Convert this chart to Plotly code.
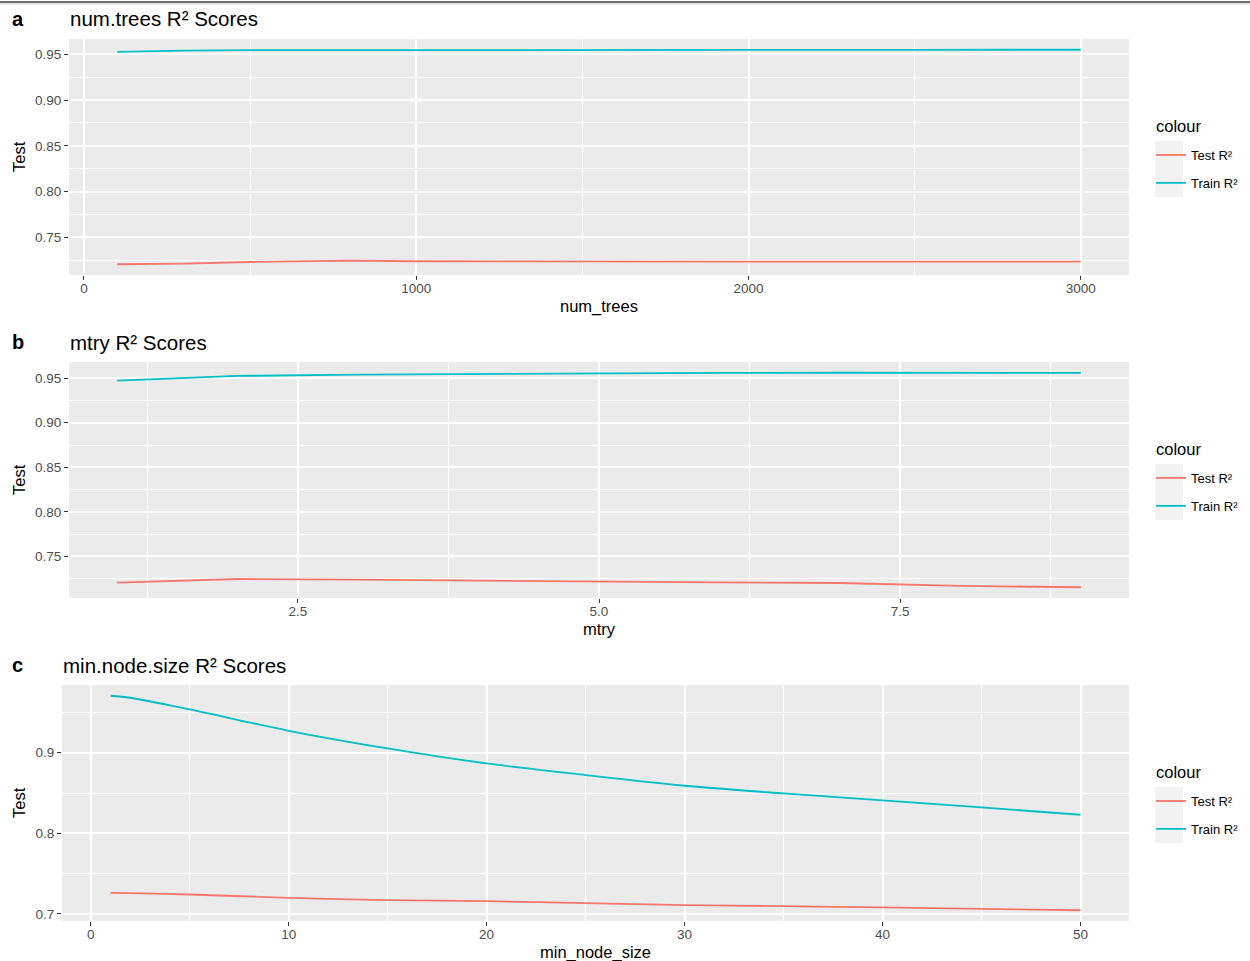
import plotly.graph_objects as go

W, H = 1250, 961

# ---------------- data ----------------
num_trees = [100, 300, 500, 800, 1000, 1500, 2000, 2500, 3000]
test_a = [0.7205, 0.7212, 0.7230, 0.7245, 0.7238, 0.7240, 0.7235, 0.7234, 0.7234]
train_a = [0.9526, 0.9540, 0.9545, 0.9547, 0.9547, 0.9548, 0.9548, 0.9549, 0.9550]

mtry = [1, 2, 3, 4, 5, 6, 7, 8, 9]
test_b = [0.7204, 0.7245, 0.7237, 0.7226, 0.7213, 0.7208, 0.7200, 0.7168, 0.7152]
train_b = [0.9474, 0.9526, 0.9541, 0.9549, 0.9556, 0.9560, 0.9562, 0.9562, 0.9561]

min_node_size = [1, 2, 5, 10, 15, 20, 25, 30, 35, 40, 45, 50]
test_c = [0.7261, 0.7257, 0.7240, 0.7199, 0.7170, 0.7157, 0.7133, 0.7108, 0.7095, 0.7079, 0.7062, 0.7044]
train_c = [0.9708, 0.9683, 0.9538, 0.9273, 0.9054, 0.8867, 0.8723, 0.8590, 0.8495, 0.8408, 0.8321, 0.8230]

panel_letters = ["a", "b", "c"]
panel_titles = ["num.trees R² Scores", "mtry R² Scores", "min.node.size R² Scores"]
x_titles = ["num_trees", "mtry", "min_node_size"]
y_title = "Test"
series_names = ["Test R²", "Train R²"]
legend_title = "colour"

TEST_COL = "#F8766D"
TRAIN_COL = "#00BFC4"
FONT = "Liberation Sans, Arial, sans-serif"


def fx(px):
    return px / W


def fy(py):
    return 1 - py / H


def expand(vals, mult=0.05):
    lo, hi = min(vals), max(vals)
    d = (hi - lo) * mult
    return [lo - d, hi + d]


# pixel layout of the three plot panels (left, right, top, bottom)
panels = [
    (69, 1129, 39, 275),
    (69, 1129, 362, 598),
    (62, 1129, 685, 921),
]

xs = [num_trees, mtry, min_node_size]
tests = [test_a, test_b, test_c]
trains = [train_a, train_b, train_c]
shapes_ = ["linear", "linear", "spline"]
x_tick = [dict(tick0=0, dtick=1000, minor=500, fmt="d"),
          dict(tick0=0, dtick=2.5, minor=1.25, fmt=".1f"),
          dict(tick0=0, dtick=10, minor=5, fmt="d")]
y_tick = [dict(dtick=0.05, minor=0.025, fmt=".2f"),
          dict(dtick=0.05, minor=0.025, fmt=".2f"),
          dict(dtick=0.1, minor=0.05, fmt=".1f")]

fig = go.Figure()
layout = dict(
    width=W, height=H, autosize=False,
    margin=dict(l=0, r=0, t=0, b=0),
    paper_bgcolor="white", plot_bgcolor="#EBEBEB",
    font=dict(family=FONT, color="black"),
    annotations=[], shapes=[],
)

legend_keys = ["legend", "legend2", "legend3"]

for i in range(3):
    L, R, T, B = panels[i]
    xa = "x" if i == 0 else f"x{i+1}"
    ya = "y" if i == 0 else f"y{i+1}"
    xname = "xaxis" if i == 0 else f"xaxis{i+1}"
    yname = "yaxis" if i == 0 else f"yaxis{i+1}"
    for name, ys, col in [(series_names[0], tests[i], TEST_COL), (series_names[1], trains[i], TRAIN_COL)]:
        fig.add_trace(go.Scatter(
            x=xs[i], y=ys, name=name, mode="lines",
            line=dict(color=col, width=1.8, shape=shapes_[i], smoothing=0.8),
            xaxis=xa, yaxis=ya, legend=legend_keys[i], legendgroup=f"{name}{i}",
        ))
    xr = expand(xs[i])
    yr = expand(tests[i] + trains[i])
    common = dict(
        showgrid=True, gridcolor="white", gridwidth=1.6, zeroline=False,
        showline=False, ticks="outside", ticklen=4, tickwidth=1, tickcolor="#333333",
        tickfont=dict(size=13.5, color="#4D4D4D", family=FONT),
    )
    layout[xname] = dict(
        common, domain=[fx(L), fx(R)], anchor=ya, range=xr,
        tick0=x_tick[i]["tick0"], dtick=x_tick[i]["dtick"], tickformat=x_tick[i]["fmt"],
        ticklabelstandoff=-3,
        minor=dict(tick0=0, dtick=x_tick[i]["minor"], showgrid=True, gridcolor="white", gridwidth=0.8),
    )
    layout[yname] = dict(
        common, domain=[fy(B), fy(T)], anchor=xa, range=yr,
        tick0=0, dtick=y_tick[i]["dtick"], tickformat=y_tick[i]["fmt"],
        minor=dict(tick0=0, dtick=y_tick[i]["minor"], showgrid=True, gridcolor="white", gridwidth=0.8),
    )
    # legend (items), title drawn as annotation for exact spacing
    layout[legend_keys[i]] = dict(
        x=fx(1151), y=fy(T + 101), xanchor="left", yanchor="top",
        bgcolor="rgba(0,0,0,0)", borderwidth=0,
        font=dict(size=13, color="black", family=FONT),
        traceorder="grouped", tracegroupgap=8, itemwidth=30,
    )
    layout["annotations"].append(dict(
        text=legend_title, x=fx(1154), y=fy(T + 87), xref="paper", yref="paper",
        xanchor="left", yanchor="middle", showarrow=False,
        font=dict(size=16.5, color="black", family=FONT),
    ))
    # legend key background
    layout["shapes"].append(dict(
        type="rect", xref="paper", yref="paper",
        x0=fx(1155), x1=fx(1183), y0=fy(T + 102), y1=fy(T + 158),
        fillcolor="#F2F2F2", line=dict(width=0), layer="below",
    ))
    # panel letter and title
    layout["annotations"].append(dict(
        text=f"<b>{panel_letters[i]}</b>", x=fx(10), y=fy(T - 20), xref="paper", yref="paper",
        xanchor="left", yanchor="middle", showarrow=False,
        font=dict(size=20, color="black", family=FONT),
    ))
    layout["annotations"].append(dict(
        text=panel_titles[i], x=fx(L - 1), y=fy(T - 20), xref="paper", yref="paper",
        xanchor="left", yanchor="middle", showarrow=False,
        font=dict(size=20.5, color="black", family=FONT),
    ))
    # axis titles
    layout["annotations"].append(dict(
        text=x_titles[i], x=fx((L + R) / 2), y=fy(B + 31), xref="paper", yref="paper",
        xanchor="center", yanchor="middle", showarrow=False,
        font=dict(size=16.5, color="black", family=FONT),
    ))
    layout["annotations"].append(dict(
        text=y_title, x=fx(19), y=fy((T + B) / 2), xref="paper", yref="paper",
        xanchor="center", yanchor="middle", showarrow=False, textangle=-90,
        font=dict(size=16.5, color="black", family=FONT),
    ))

# top border line
layout["shapes"].append(dict(type="line", xref="paper", yref="paper",
                             x0=0, x1=1, y0=fy(2), y1=fy(2),
                             line=dict(color="#3C3C3C", width=1.5)))
layout["shapes"].append(dict(type="line", xref="paper", yref="paper",
                             x0=0, x1=1, y0=fy(4), y1=fy(4),
                             line=dict(color="#E6E6E6", width=2)))

fig.update_layout(**layout)
fig.write_html(
    "out.html",
    config={"displayModeBar": False},
    post_script="document.body.style.margin='0';document.body.style.overflow='hidden';",
)
